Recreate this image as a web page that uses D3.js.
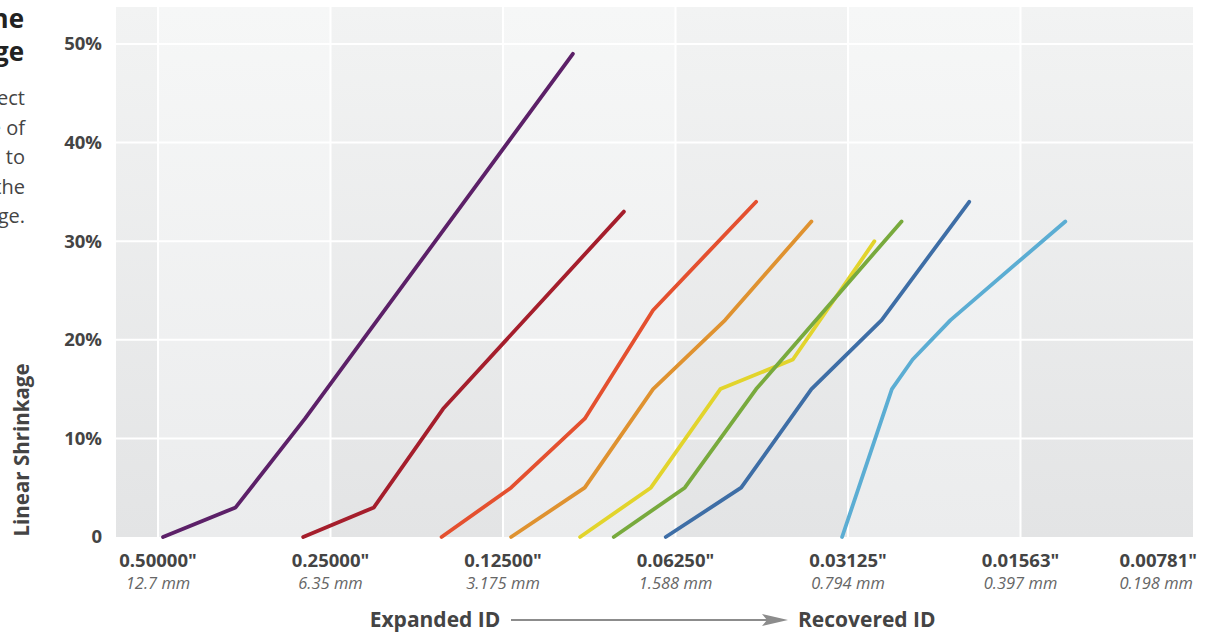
<!DOCTYPE html>
<html>
<head>
<meta charset="utf-8">
<script src="https://cdn.jsdelivr.net/npm/d3@7"></script>
<style>
  body { margin: 0; background: #fff; font-family: "Open Sans", sans-serif; overflow: hidden; }
  svg { display: block; }
</style>
</head>
<body>
<div id="chart"></div>
<script>
// tick values (inner diameter, inches) and their labels
const tickInches = [0.5, 0.25, 0.125, 0.0625, 0.03125, 0.015625, 0.0078125];
const tickInchLabels = ['0.50000"', '0.25000"', '0.12500"', '0.06250"', '0.03125"', '0.01563"', '0.00781"'];
const tickMmLabels = ['12.7 mm', '6.35 mm', '3.175 mm', '1.588 mm', '0.794 mm', '0.397 mm', '0.198 mm'];
const shrinkTicks = [0, 10, 20, 30, 40, 50];

// each series: [ID in inches, linear shrinkage %]
const purpleSeries = [[0.490, 0], [0.366, 3], [0.277, 12], [0.0944, 49]];
const crimsonSeries = [[0.279, 0], [0.210, 3], [0.159, 13], [0.0769, 33]];
const redSeries = [[0.160, 0], [0.121, 5], [0.090, 12], [0.0684, 23], [0.0452, 34]];
const orangeSeries = [[0.121, 0], [0.090, 5], [0.0684, 15], [0.0512, 22], [0.0362, 32]];
const yellowSeries = [[0.0917, 0], [0.0690, 5], [0.0522, 15], [0.0390, 18], [0.0281, 30]];
const greenSeries = [[0.0801, 0], [0.0602, 5], [0.0452, 15], [0.0252, 32]];
const blueSeries = [[0.0650, 0], [0.0480, 5], [0.0362, 15], [0.0273, 22], [0.0192, 34]];
const skySeries = [[0.0320, 0], [0.0262, 15], [0.0241, 18], [0.0207, 22], [0.01305, 32]];

const seriesList = [purpleSeries, crimsonSeries, redSeries, orangeSeries, yellowSeries, greenSeries, blueSeries, skySeries];
const seriesColors = ['#5c2068', '#a51e2c', '#e4502f', '#df9230', '#e2d42c', '#78aa3d', '#3e6ea6', '#5badd3'];

const width = 1212, height = 633;
const plot = { left: 116, right: 1193, top: 7, bottom: 537 };

const svg = d3.select('#chart').append('svg')
  .attr('width', width)
  .attr('height', height);

const x = d3.scaleLog().base(2)
  .domain([tickInches[0], tickInches[tickInches.length - 1]])
  .range([158, plot.right]);

const y = d3.scaleLinear()
  .domain([0, 50])
  .range([plot.bottom, 44]);

// background gradients
const defs = svg.append('defs');
const gradLight = defs.append('linearGradient').attr('id', 'bgLight')
  .attr('x1', 0).attr('y1', 0).attr('x2', 0).attr('y2', 1);
gradLight.append('stop').attr('offset', '0%').attr('stop-color', '#f6f7f7');
gradLight.append('stop').attr('offset', '100%').attr('stop-color', '#ebeced');
const gradDark = defs.append('linearGradient').attr('id', 'bgDark')
  .attr('x1', 0).attr('y1', 0).attr('x2', 0).attr('y2', 1);
gradDark.append('stop').attr('offset', '0%').attr('stop-color', '#f2f3f3');
gradDark.append('stop').attr('offset', '100%').attr('stop-color', '#e3e4e5');

// alternating column bands between vertical gridlines
const bandEdges = [plot.left].concat(tickInches.map(d => x(d)));
const bands = d3.pairs(bandEdges);
svg.append('g').selectAll('rect')
  .data(bands)
  .enter().append('rect')
  .attr('x', d => d[0])
  .attr('y', plot.top)
  .attr('width', d => d[1] - d[0])
  .attr('height', plot.bottom - plot.top)
  .attr('fill', (d, i) => i % 2 === 0 ? 'url(#bgDark)' : 'url(#bgLight)');

// gridlines
const grid = svg.append('g').attr('stroke', '#fff').attr('stroke-width', 2);
grid.selectAll('line.h')
  .data(shrinkTicks.filter(d => d > 0))
  .enter().append('line')
  .attr('class', 'h')
  .attr('x1', plot.left).attr('x2', plot.right)
  .attr('y1', d => y(d)).attr('y2', d => y(d));
grid.selectAll('line.v')
  .data(tickInches.slice(0, -1))
  .enter().append('line')
  .attr('class', 'v')
  .attr('x1', d => x(d)).attr('x2', d => x(d))
  .attr('y1', plot.top).attr('y2', plot.bottom);

// series lines
const line = d3.line()
  .x(d => x(d[0]))
  .y(d => y(d[1]));

svg.append('g').selectAll('path')
  .data(seriesList)
  .enter().append('path')
  .attr('d', line)
  .attr('fill', 'none')
  .attr('stroke', (d, i) => seriesColors[i])
  .attr('stroke-width', 3.8)
  .attr('stroke-linecap', 'round')
  .attr('stroke-linejoin', 'round');

// y tick labels
svg.append('g').selectAll('text')
  .data(shrinkTicks)
  .enter().append('text')
  .attr('x', 102)
  .attr('y', d => y(d))
  .attr('dy', '0.35em')
  .attr('text-anchor', 'end')
  .attr('font-size', 18.5)
  .attr('font-weight', 700)
  .attr('fill', '#444')
  .text(d => d === 0 ? '0' : d + '%');

// y axis title
svg.append('text')
  .attr('transform', 'translate(29,450) rotate(-90)')
  .attr('text-anchor', 'middle')
  .attr('font-size', 20.5)
  .attr('font-weight', 700)
  .attr('fill', '#444')
  .text('Linear Shrinkage');

// x tick labels
const lastIdx = tickInches.length - 1;
const xLabels = svg.append('g');
xLabels.selectAll('text.inch')
  .data(tickInches)
  .enter().append('text')
  .attr('class', 'inch')
  .attr('x', (d, i) => i === lastIdx ? 1197 : x(d))
  .attr('y', 567)
  .attr('text-anchor', (d, i) => i === lastIdx ? 'end' : 'middle')
  .attr('font-size', 18.5)
  .attr('font-weight', 700)
  .attr('fill', '#444')
  .text((d, i) => tickInchLabels[i]);
xLabels.selectAll('text.mm')
  .data(tickInches)
  .enter().append('text')
  .attr('class', 'mm')
  .attr('x', (d, i) => i === lastIdx ? 1193 : x(d))
  .attr('y', 589)
  .attr('text-anchor', (d, i) => i === lastIdx ? 'end' : 'middle')
  .attr('font-size', 16.5)
  .attr('font-style', 'italic')
  .attr('fill', '#666')
  .text((d, i) => tickMmLabels[i]);

// x axis caption with arrow
svg.append('text')
  .attr('x', 435).attr('y', 627)
  .attr('text-anchor', 'middle')
  .attr('font-size', 21)
  .attr('font-weight', 700)
  .attr('fill', '#444')
  .text('Expanded ID');
svg.append('line')
  .attr('x1', 511).attr('x2', 776)
  .attr('y1', 620).attr('y2', 620)
  .attr('stroke', '#8c8c8c')
  .attr('stroke-width', 2);
svg.append('path')
  .attr('d', 'M762,614 L788,620 L762,626 L767,620 Z')
  .attr('fill', '#8c8c8c');
svg.append('text')
  .attr('x', 798).attr('y', 627)
  .attr('font-size', 21)
  .attr('font-weight', 700)
  .attr('fill', '#444')
  .text('Recovered ID');

// side note, cut off at the left edge as in the source layout
const note = svg.append('g').attr('fill', '#222');
note.selectAll('text.title')
  .data(['Shrinking the', 'Tubing Range'])
  .enter().append('text')
  .attr('x', 24)
  .attr('y', (d, i) => 28 + i * 33)
  .attr('text-anchor', 'end')
  .attr('font-size', 26)
  .attr('font-weight', 700)
  .text(d => d);
note.selectAll('text.body')
  .data(['Tubing sizes you can expect', 'at each stage of', 'shrinkage, from expanded to', 'recovered across the', 'tubing range.'])
  .enter().append('text')
  .attr('x', 25)
  .attr('y', (d, i) => 105 + i * 29.5)
  .attr('text-anchor', 'end')
  .attr('font-size', 20)
  .attr('fill', '#444')
  .text(d => d);
</script>
</body>
</html>
